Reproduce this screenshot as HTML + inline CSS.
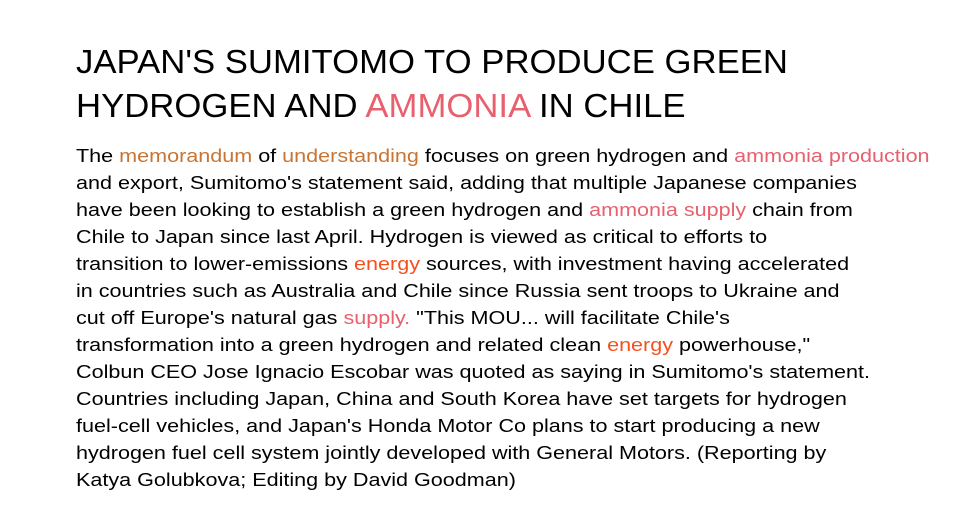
<!DOCTYPE html>
<html><head><meta charset="utf-8"><style>
html,body{margin:0;padding:0;background:#fff;width:960px;height:513px;overflow:hidden}
body{font-family:"Liberation Sans",Arial,sans-serif;color:#000}
h1{position:absolute;left:76px;top:40px;margin:0;font-weight:normal;font-size:33px;line-height:44px;white-space:nowrap;transform:scaleX(1.052);transform-origin:0 0}
p{position:absolute;left:76px;top:143px;margin:0;font-size:18px;line-height:27px;white-space:nowrap;transform:scaleX(1.198);transform-origin:0 0}
.o{color:#c87533}.p{color:#e8606e}.r{color:#f4511e}
</style></head><body>
<h1>JAPAN'S SUMITOMO TO PRODUCE GREEN<br>HYDROGEN AND <span class="p">AMMONIA</span> IN CHILE</h1>
<p>The <span class="o">memorandum</span> of <span class="o">understanding</span> focuses on green hydrogen and <span class="p">ammonia production</span><br>and export, Sumitomo's statement said, adding that multiple Japanese companies<br>have been looking to establish a green hydrogen and <span class="p">ammonia supply</span> chain from<br>Chile to Japan since last April. Hydrogen is viewed as critical to efforts to<br>transition to lower-emissions <span class="r">energy</span> sources, with investment having accelerated<br>in countries such as Australia and Chile since Russia sent troops to Ukraine and<br>cut off Europe's natural gas <span class="p">supply.</span> "This MOU... will facilitate Chile's<br>transformation into a green hydrogen and related clean <span class="r">energy</span> powerhouse,"<br>Colbun CEO Jose Ignacio Escobar was quoted as saying in Sumitomo's statement.<br>Countries including Japan, China and South Korea have set targets for hydrogen<br>fuel-cell vehicles, and Japan's Honda Motor Co plans to start producing a new<br>hydrogen fuel cell system jointly developed with General Motors. (Reporting by<br>Katya Golubkova; Editing by David Goodman)</p>
</body></html>
